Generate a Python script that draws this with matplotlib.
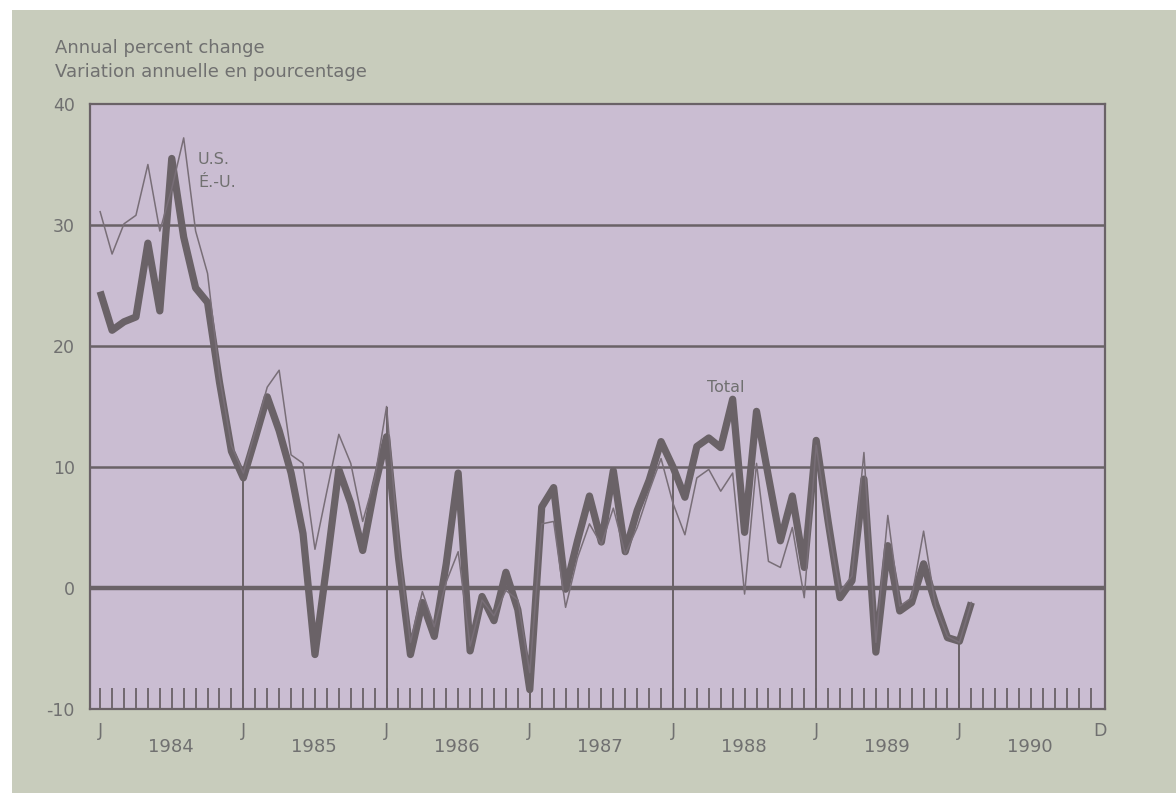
import numpy as np
import matplotlib.pyplot as plt
from matplotlib.patches import Rectangle
from matplotlib.transforms import blended_transform_factory

# Monthly annual percent change, Jan 1984 - Feb 1990
total = [
    24.5, 21.3, 22.0, 22.4, 28.5, 22.9, 35.5, 29.0, 24.8, 23.6, 17.0, 11.3,
    9.1, 12.4, 15.8, 13.0, 9.5, 4.5, -5.5, 2.0, 9.8, 7.0, 3.1, 8.3,
    12.5, 2.5, -5.5, -1.2, -4.0, 2.0, 9.5, -5.2, -0.7, -2.7, 1.3, -1.8,
    -8.4, 6.7, 8.3, -0.1, 3.9, 7.6, 3.8, 9.7, 3.0, 6.4, 8.9, 12.1,
    10.0, 7.5, 11.7, 12.4, 11.6, 15.6, 4.6, 14.6, 9.2, 3.9, 7.6, 1.7,
    12.2, 5.5, -0.8, 0.6, 9.0, -5.3, 3.5, -1.9, -1.2, 2.0, -1.3, -4.1,
    -4.4, -1.2,
]
us = [
    31.1, 27.6, 30.1, 30.8, 35.0, 29.5, 33.0, 37.2, 29.5, 26.0, 17.5, 11.8,
    9.5, 13.0, 16.6, 18.0, 11.0, 10.3, 3.2, 8.0, 12.7, 10.3, 5.5, 9.0,
    15.0, 3.5, -4.5, -0.3, -3.2, 0.5, 3.0, -4.8, -1.0, -2.3, -0.2, -1.0,
    -7.0, 5.3, 5.5, -1.6, 2.5, 5.3, 3.6, 6.6, 2.8, 5.0, 8.0, 10.7,
    7.0, 4.4, 9.1, 9.8, 8.0, 9.5, -0.5, 10.3, 2.2, 1.7, 5.0, -0.8,
    11.8, 5.0, -0.3, 1.0, 11.2, -4.5, 6.0, -1.5, -0.8, 4.7, -1.5, -4.0,
    -4.5, -1.2,
]
years = ["1984", "1985", "1986", "1987", "1988", "1989", "1990"]
y_ticks = [-10, 0, 10, 20, 30, 40]

months = np.arange(len(total))
total = np.array(total)
us = np.array(us)

bg = "#c8ccbc"
panel = "#cabdd2"
ink = "#6a6267"
text_c = "#707070"

fig = plt.figure(figsize=(11.76, 7.93), dpi=100, facecolor="white")
fig.patches.append(Rectangle((12 / 1176, 0), 1, 1 - 10 / 793,
                             transform=fig.transFigure, facecolor=bg,
                             edgecolor="none", zorder=-10))

ax = fig.add_axes([90 / 1176, 1 - 709 / 793, 1015 / 1176, 605 / 793])
ax.set_facecolor(panel)
ax.set_xlim(-0.85, 84.2)
ax.set_ylim(-10, 40)

# horizontal grid
for g in [10, 20, 30]:
    ax.axhline(g, color=ink, lw=1.8, zorder=1)
ax.axhline(0, color=ink, lw=3.2, zorder=1)

# January drop lines
jan = np.arange(12, len(total), 12)
ax.vlines(jan, -10, np.maximum(total, us)[jan], color=ink, lw=1.4, zorder=1)

ax.plot(months, total, color=ink, lw=5.2, solid_joinstyle="round",
        solid_capstyle="butt", zorder=3)
ax.plot(months, us, color="#786e77", lw=1.1, zorder=4)

for s in ax.spines.values():
    s.set_color(ink)
    s.set_linewidth(1.6)

ax.set_yticks(y_ticks)
ax.set_yticklabels([str(v) for v in y_ticks], color=text_c, fontsize=12.5)
ax.tick_params(axis="y", length=0, pad=11)

ax.set_xticks(np.arange(0, 84))
ax.set_xticklabels([])
ax.tick_params(axis="x", direction="in", length=15, width=1.3, color=ink)

trans = blended_transform_factory(ax.transData, fig.transFigure)
for i, yr in enumerate(years):
    ax.text(12 * i, 1 - 731 / 793, "J", transform=trans, ha="center",
            va="center", fontsize=12.5, color=text_c)
    ax.text(12 * i + 5.9, 1 - 747 / 793, yr, transform=trans, ha="center",
            va="center", fontsize=13, color=text_c)
ax.text(83.8, 1 - 731 / 793, "D", transform=trans, ha="center",
        va="center", fontsize=12.5, color=text_c)

fig.text(55 / 1176, 1 - 53 / 793, "Annual percent change", fontsize=13,
         color=text_c, va="baseline")
fig.text(55 / 1176, 1 - 77 / 793, "Variation annuelle en pourcentage",
         fontsize=13, color=text_c, va="baseline")

ax.text(8.2, 35.4, "U.S.", fontsize=11.5, color=text_c, va="center")
ax.text(8.2, 33.5, "É.-U.", fontsize=11.5, color=text_c, va="center")
ax.text(52.4, 16.6, "Total", fontsize=11.5, color=text_c, ha="center",
        va="center")

fig.savefig("out.png", dpi=100, facecolor=fig.get_facecolor())
